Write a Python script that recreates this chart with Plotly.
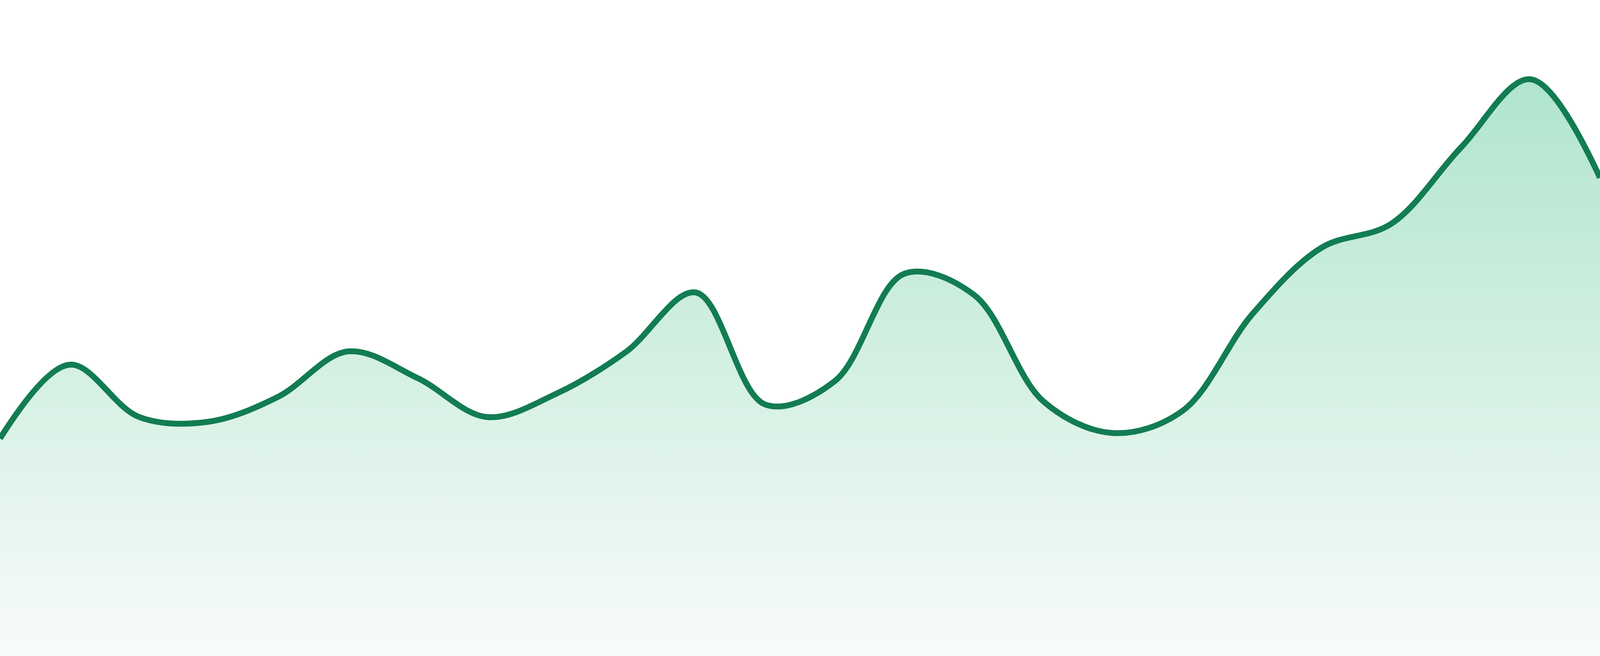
"""
	Sparkline style area chart: smoothed green line with a soft vertical gradient fill,
	no axes, no labels, drawn edge to edge of the browser window.
"""

import plotly.graph_objects as go


# ===========[ Data ]=========== #
points = list(range(24))			# sample index along the x axis
values = [55.7, 74.6, 61.2, 60.0, 66.4, 78.0, 71.2, 61.2, 67.2, 77.9, 93.1, 64.4,
	70.4, 97.9, 92.5, 65.2, 57.1, 62.8, 87.5, 104.6, 110.7, 130.2, 147.7, 122.5]

# Colors
line_green = '#127c52'
fill_top = '#b0e5cd'
fill_bottom = '#f8fbfa'


# ===========[ Figure ]=========== #
fig = go.Figure()

fig.add_trace(go.Scatter(x=points, y=values, mode='lines',
	line={"color": line_green, "width": 15, "shape": "spline", "smoothing": 1.0},
	fill='tozeroy',
	fillgradient={"type": "vertical", "start": 0, "stop": max(values),
		"colorscale": [[0, fill_bottom], [1, fill_top]]},
	hoverinfo='skip'))

fig.update_layout(autosize=True, margin={"l": 0, "r": 0, "t": 0, "b": 0, "pad": 0},
	plot_bgcolor='white', paper_bgcolor='white', showlegend=False)
fig.update_xaxes(visible=False, range=[0, len(points) - 1], fixedrange=True)
fig.update_yaxes(visible=False, range=[0, 168], fixedrange=True)

# Fill the whole window: no body margin, no scrollbars
fit_window = """
document.documentElement.style.margin = '0';
document.body.style.margin = '0';
document.body.style.overflow = 'hidden';
var gd = document.getElementById('{plot_id}');
gd.style.width = '100vw';
gd.style.height = '100vh';
Plotly.Plots.resize(gd);
"""

fig.write_html("out.html", default_width='100vw', default_height='100vh',
	config={"responsive": True, "displayModeBar": False}, post_script=fit_window)
